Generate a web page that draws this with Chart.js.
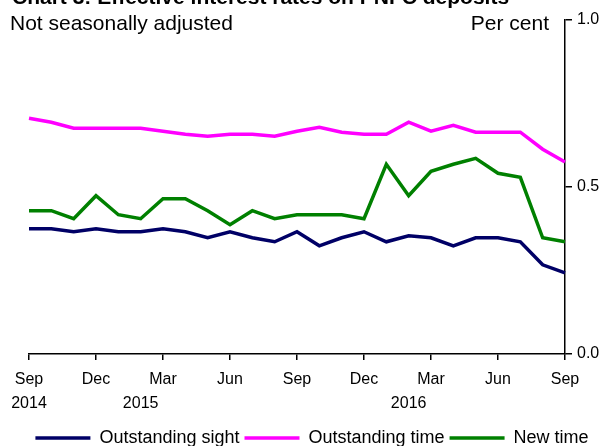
<!DOCTYPE html>
<html>
<head>
<meta charset="utf-8">
<script src="https://cdn.jsdelivr.net/npm/chart.js@4.4.1/dist/chart.umd.min.js"></script>
<style>
    html, body { margin: 0; padding: 0; background: #fff; }
    #wrap { width: 611px; height: 446px; position: relative; }
</style>
</head>
<body>
<div id="wrap"><canvas id="rateChart"></canvas></div>
<script>
// Chart data
const months = ['Sep', 'Oct', 'Nov', 'Dec', 'Jan', 'Feb', 'Mar', 'Apr', 'May', 'Jun', 'Jul', 'Aug',
    'Sep', 'Oct', 'Nov', 'Dec', 'Jan', 'Feb', 'Mar', 'Apr', 'May', 'Jun', 'Jul', 'Aug', 'Sep'];
const yearLabels = { 0: '2014', 5: '2015', 17: '2016' };
const outstandingSight = [0.375, 0.375, 0.366, 0.375, 0.366, 0.366, 0.375, 0.366, 0.348, 0.366, 0.348, 0.336,
    0.366, 0.324, 0.348, 0.366, 0.336, 0.354, 0.348, 0.324, 0.348, 0.348, 0.336, 0.267, 0.243];
const outstandingTime = [0.706, 0.694, 0.676, 0.676, 0.676, 0.676, 0.667, 0.658, 0.652, 0.658, 0.658, 0.652,
    0.667, 0.679, 0.664, 0.658, 0.658, 0.694, 0.667, 0.685, 0.664, 0.664, 0.664, 0.613, 0.575];
const newTime = [0.429, 0.429, 0.405, 0.474, 0.417, 0.405, 0.465, 0.465, 0.429, 0.387, 0.429, 0.405,
    0.417, 0.417, 0.417, 0.405, 0.568, 0.474, 0.547, 0.568, 0.586, 0.541, 0.529, 0.348, 0.336];

const titleText = 'Chart 3: Effective interest rates on PNFC deposits';
const subtitleText = 'Not seasonally adjusted';
const unitText = 'Per cent';

const FONT = '"Liberation Sans", Arial, sans-serif';

// Title, subtitle and unit label drawn on the canvas
const headerText = {
    id: 'headerText',
    afterDraw(chart) {
        const ctx = chart.ctx;
        ctx.save();
        ctx.fillStyle = '#000';
        ctx.textBaseline = 'alphabetic';
        ctx.font = 'bold 21px ' + FONT;
        ctx.textAlign = 'left';
        ctx.fillText(titleText, 12, 4);
        ctx.font = '21px ' + FONT;
        ctx.fillText(subtitleText, 10, 30);
        ctx.textAlign = 'right';
        ctx.fillText(unitText, 549, 30);
        ctx.restore();
    }
};

// Nudge the legend a little to the left, like the original
const legendShift = {
    id: 'legendShift',
    afterLayout(chart) {
        if (chart.legend) {
            chart.legend.left -= 8;
            chart.legend.right -= 8;
        }
    }
};

new Chart(document.getElementById('rateChart'), {
    type: 'line',
    data: {
        labels: months,
        datasets: [
            {
                label: 'Outstanding sight',
                data: outstandingSight,
                borderColor: '#000066',
                backgroundColor: '#000066',
                borderWidth: 3.5
            },
            {
                label: 'Outstanding time',
                data: outstandingTime,
                borderColor: '#ff00ff',
                backgroundColor: '#ff00ff',
                borderWidth: 3.5
            },
            {
                label: 'New time',
                data: newTime,
                borderColor: '#008000',
                backgroundColor: '#008000',
                borderWidth: 3.5
            }
        ]
    },
    options: {
        responsive: true,
        maintainAspectRatio: false,
        animation: false,
        elements: {
            point: { radius: 0 },
            line: { tension: 0 }
        },
        layout: {
            padding: { left: 29, top: 20, right: 0, bottom: -11 }
        },
        plugins: {
            legend: {
                position: 'bottom',
                labels: {
                    usePointStyle: true,
                    pointStyle: 'line',
                    pointStyleWidth: 55,
                    color: '#000',
                    padding: 5,
                    font: { family: FONT, size: 18 }
                }
            },
            tooltip: { enabled: false }
        },
        scales: {
            x: {
                type: 'category',
                grid: {
                    drawOnChartArea: false,
                    drawTicks: true,
                    tickLength: 6,
                    lineWidth: 1.5,
                    color: (ctx) => (ctx.index % 3 === 0 ? '#000' : 'rgba(0,0,0,0)')
                },
                border: { color: '#000', width: 1.5 },
                ticks: {
                    autoSkip: false,
                    maxRotation: 0,
                    padding: 8,
                    color: '#000',
                    font: { family: FONT, size: 16, lineHeight: 1.5 },
                    callback: function (value, index) {
                        const month = index % 3 === 0 ? months[index] : '';
                        const year = yearLabels[index];
                        if (year) return [month, year];
                        return month;
                    }
                }
            },
            y: {
                position: 'right',
                min: 0,
                max: 1,
                afterFit: (scale) => { scale.width = 46; },
                grid: {
                    drawOnChartArea: false,
                    drawTicks: true,
                    tickLength: 7,
                    lineWidth: 1.5,
                    color: '#000'
                },
                border: { color: '#000', width: 1.5 },
                ticks: {
                    stepSize: 0.5,
                    padding: 5,
                    color: '#000',
                    font: { family: FONT, size: 16 },
                    callback: (v) => v.toFixed(1)
                }
            }
        }
    },
    plugins: [headerText, legendShift]
});
</script>
</body>
</html>
